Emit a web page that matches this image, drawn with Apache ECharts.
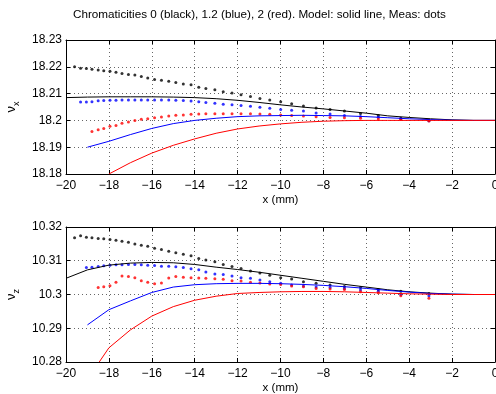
<!DOCTYPE html>
<html>
<head>
<meta charset="utf-8">
<script src="https://cdn.jsdelivr.net/npm/echarts@6/dist/echarts.min.js"></script>
<style>
  html, body { margin: 0; padding: 0; background: #fff; }
  #chart { width: 496px; height: 394px; }
</style>
</head>
<body>
<div id="chart"></div>
<script>
// measurement positions (mm), shared by all measured series
const X_MEAS = [-19.6, -19.32, -19.05, -18.79, -18.5, -18.24, -17.95, -17.67, -17.39, -17.09,
  -16.79, -16.49, -16.19, -15.87, -15.55, -15.21, -14.88, -14.53, -14.17, -13.81,
  -13.48, -13.06, -12.67, -12.26, -11.84, -11.4, -10.96, -10.5, -9.99, -9.48,
  -8.93, -8.34, -7.69, -7.02, -6.27, -5.44, -4.39, -3.08];

// nu_x measured (dots); *_START = first index into X_MEAS
const NUX_BLACK_MEAS = [18.2200, 18.2195, 18.2194, 18.2191, 18.2188, 18.2185, 18.2183, 18.2180, 18.2175, 18.2171,
  18.2169, 18.2164, 18.2158, 18.2153, 18.2150, 18.2146, 18.2141, 18.2136, 18.2133, 18.2124,
  18.2119, 18.2114, 18.2107, 18.2102, 18.2096, 18.2089, 18.2082, 18.2076, 18.2070, 18.2062,
  18.2054, 18.2046, 18.2041, 18.2035, 18.2026, 18.2018, 18.2008, 18.2000];
const NUX_BLACK_START = 0;
const NUX_BLUE_MEAS = [18.2069, 18.2069, 18.2070, 18.2073, 18.2074, 18.2075, 18.2075, 18.2076, 18.2076,
  18.2076, 18.2076, 18.2076, 18.2076, 18.2076, 18.2076, 18.2075, 18.2074, 18.2072, 18.2070,
  18.2067, 18.2064, 18.2060, 18.2058, 18.2056, 18.2053, 18.2049, 18.2045, 18.2041, 18.2038,
  18.2035, 18.2028, 18.2024, 18.2018, 18.2015, 18.2012, 18.2006, 18.1999];
const NUX_BLUE_START = 1;
const NUX_RED_MEAS = [18.1959, 18.1965, 18.1970, 18.1978, 18.1981, 18.1989, 18.1994,
  18.2000, 18.2004, 18.2006, 18.2010, 18.2013, 18.2016, 18.2019, 18.2020, 18.2023, 18.2024,
  18.2025, 18.2025, 18.2025, 18.2025, 18.2025, 18.2025, 18.2024, 18.2023, 18.2020, 18.2018,
  18.2016, 18.2014, 18.2011, 18.2010, 18.2008, 18.2005, 18.2003, 18.1998];
const NUX_RED_START = 3;

// nu_z measured (dots)
const NUZ_BLACK_MEAS = [10.3168, 10.3174, 10.3170, 10.3168, 10.3166, 10.3165, 10.3163, 10.3161, 10.3158, 10.3155,
  10.3150, 10.3146, 10.3143, 10.3137, 10.3133, 10.3128, 10.3124, 10.3119, 10.3115, 10.3107,
  10.3102, 10.3097, 10.3089, 10.3083, 10.3077, 10.3070, 10.3064, 10.3057, 10.3050, 10.3046,
  10.3038, 10.3033, 10.3028, 10.3024, 10.3021, 10.3015, 10.3010, 10.3003];
const NUZ_BLACK_START = 0;
const NUZ_BLUE_MEAS = [10.3080, 10.3081, 10.3083, 10.3085, 10.3087, 10.3088, 10.3088, 10.3089,
  10.3089, 10.3088, 10.3087, 10.3086, 10.3084, 10.3084, 10.3082, 10.3080, 10.3076, 10.3073,
  10.3067, 10.3061, 10.3059, 10.3055, 10.3050, 10.3048, 10.3043, 10.3038, 10.3033, 10.3028,
  10.3025, 10.3022, 10.3021, 10.3018, 10.3013, 10.3010, 10.3000, 10.2996];
const NUZ_BLUE_START = 2;
const NUZ_RED_MEAS = [10.3021, 10.3023, 10.3026, 10.3036, 10.3055, 10.3053, 10.3050, 10.3041,
  10.3036, 10.3032, 10.3034, 10.3049, 10.3053, 10.3051, 10.3050, 10.3049, 10.3048,
  10.3047, 10.3045, 10.3041, 10.3040, 10.3036, 10.3034, 10.3031, 10.3030, 10.3025, 10.3023,
  10.3018, 10.3016, 10.3015, 10.3008, 10.3005, 10.2996, 10.2989];
const NUZ_RED_START = 4;

// model curves (solid lines)
const X_MOD_BLACK = [-20, -19, -18, -17, -16, -15, -14, -13, -12, -11, -10, -9, -8, -7, -6, -5, -4, -3, -2, -1, 0];
const X_MOD_BLUE = [-19, -18, -17, -16, -15, -14, -13, -12, -11, -10, -9, -8, -7, -6, -5, -4, -3, -2, -1, 0];
const X_MOD_RED_X = [-18, -17, -16, -15, -14, -13, -12, -11, -10, -9, -8, -7, -6, -5, -4, -3, -2, -1, 0];
const X_MOD_RED_Z = [-18.45, -18, -17, -16, -15, -14, -13, -12, -11, -10, -9, -8, -7, -6, -5, -4, -3, -2, -1, 0];

const NUX_BLACK_MOD = [18.2085, 18.2087, 18.2088, 18.2088, 18.2088, 18.2087, 18.2085, 18.2081, 18.2075, 18.2067,
  18.2058, 18.2050, 18.2043, 18.2035, 18.2027, 18.2017, 18.2011, 18.2006, 18.2002, 18.2000, 18.2000];
const NUX_BLUE_MOD = [18.1900, 18.1922, 18.1947, 18.1970, 18.1988, 18.2000, 18.2008, 18.2014, 18.2017, 18.2018,
  18.2019, 18.2018, 18.2017, 18.2014, 18.2010, 18.2006, 18.2003, 18.2001, 18.2000, 18.2000];
const NUX_RED_MOD = [18.1800, 18.1842, 18.1878, 18.1907, 18.1931, 18.1952, 18.1968, 18.1979, 18.1987, 18.1993,
  18.1997, 18.1999, 18.2000, 18.2000, 18.2000, 18.2000, 18.2000, 18.2000, 18.2000];

const NUZ_BLACK_MOD = [10.3048, 10.3073, 10.3087, 10.3093, 10.3095, 10.3094, 10.3089, 10.3081, 10.3074, 10.3066,
  10.3057, 10.3048, 10.3039, 10.3030, 10.3022, 10.3014, 10.3008, 10.3004, 10.3001, 10.3000, 10.3000];
const NUZ_BLUE_MOD = [10.2910, 10.2955, 10.2981, 10.3006, 10.3022, 10.3029, 10.3032, 10.3033, 10.3033, 10.3032,
  10.3030, 10.3027, 10.3023, 10.3018, 10.3012, 10.3007, 10.3003, 10.3001, 10.3000, 10.3000];
const NUZ_RED_MOD = [10.2800, 10.2842, 10.2895, 10.2936, 10.2964, 10.2983, 10.2995, 10.3003, 10.3006, 10.3008,
  10.3009, 10.3009, 10.3008, 10.3006, 10.3004, 10.3002, 10.3001, 10.3000, 10.3000, 10.3000];

const TITLE = 'Chromaticities 0 (black), 1.2 (blue), 2 (red). Model: solid line, Meas: dots';
const X_LABEL = 'x (mm)';

const FONT = 'Liberation Sans, Arial, Helvetica, sans-serif';
const COL = { black: '#000000', blue: '#0000ff', red: '#ff0000' };

const meas = (start, ys) => ys.map((y, i) => [X_MEAS[start + i], y]);
const model = (xs, ys) => ys.map((y, i) => [xs[i], y]);

const fmtX = v => (v < 0 ? '\u2212' + Math.abs(v) : String(v));
const fmtY = v => String(parseFloat(v.toFixed(2)));

// v6 would shrink the grid to keep labels inside; turn that off
const grids = [
  { left: 66, top: 40, width: 429, height: 134, outerBoundsMode: 'none', containLabel: false },
  { left: 66, top: 227, width: 429, height: 135, outerBoundsMode: 'none', containLabel: false },
];

function xAxes(gi) {
  const base = {
    type: 'value', gridIndex: gi, min: -20, max: 0, interval: 2,
    axisLine: { show: true, onZero: false, lineStyle: { color: '#000', width: 1 } },
    axisTick: { show: true, inside: true, length: 4, lineStyle: { color: '#000' } },
  };
  return [
    Object.assign({}, base, {
      position: 'bottom',
      axisLabel: { color: '#000', fontFamily: FONT, fontSize: 12, margin: 6, formatter: fmtX },
      splitLine: { show: true, lineStyle: { color: '#666', type: [1, 3], width: 1 } },
      name: X_LABEL, nameLocation: 'middle', nameGap: 20,
      nameTextStyle: { color: '#000', fontFamily: FONT, fontSize: 11.5 },
    }),
    Object.assign({}, base, {
      position: 'top', axisLabel: { show: false }, splitLine: { show: false },
    }),
  ];
}

function yAxes(gi, min, max, sub) {
  const base = {
    type: 'value', gridIndex: gi, min: min, max: max, interval: 0.01,
    axisLine: { show: true, onZero: false, lineStyle: { color: '#000', width: 1 } },
    axisTick: { show: true, inside: true, length: 4, lineStyle: { color: '#000' } },
  };
  return [
    Object.assign({}, base, {
      position: 'left',
      axisLabel: { color: '#000', fontFamily: FONT, fontSize: 12, margin: 4, formatter: fmtY },
      splitLine: { show: true, lineStyle: { color: '#666', type: [1, 3], width: 1 } },
      name: '{nu|\u03bd}{sub|' + sub + '}', nameLocation: 'middle', nameGap: 42, nameRotate: 90,
      nameTextStyle: {
        color: '#000', fontFamily: FONT,
        rich: {
          nu: { fontSize: 13, fontFamily: FONT, color: '#000', lineHeight: 16, verticalAlign: 'top' },
          sub: { fontSize: 9, fontFamily: FONT, color: '#000', lineHeight: 16, verticalAlign: 'bottom', padding: [8, 0, 0, 0] },
        },
      },
    }),
    Object.assign({}, base, {
      position: 'right', axisLabel: { show: false }, splitLine: { show: false },
    }),
  ];
}

function lineSeries(gi, data, color) {
  return {
    type: 'line', xAxisIndex: gi * 2, yAxisIndex: gi * 2, data: data,
    showSymbol: false, symbol: 'none', clip: true,
    lineStyle: { color: color, width: 1 }, silent: true, animation: false,
  };
}

function dotSeries(gi, data, color) {
  return {
    type: 'scatter', xAxisIndex: gi * 2, yAxisIndex: gi * 2, data: data,
    symbol: 'circle', symbolSize: 3, itemStyle: { color: color },
    silent: true, animation: false,
  };
}

const chart = echarts.init(document.getElementById('chart'), null, { renderer: 'canvas' });
chart.setOption({
  backgroundColor: '#fff',
  animation: false,
  title: {
    text: TITLE, left: 68, top: 4,
    textStyle: { color: '#000', fontFamily: FONT, fontSize: 11.7, fontWeight: 'normal' },
  },
  grid: grids,
  xAxis: xAxes(0).concat(xAxes(1)),
  yAxis: yAxes(0, 18.18, 18.23, 'x').concat(yAxes(1, 10.28, 10.32, 'z')),
  series: [
    lineSeries(0, model(X_MOD_BLACK, NUX_BLACK_MOD), COL.black),
    lineSeries(0, model(X_MOD_BLUE, NUX_BLUE_MOD), COL.blue),
    lineSeries(0, model(X_MOD_RED_X, NUX_RED_MOD), COL.red),
    dotSeries(0, meas(NUX_BLACK_START, NUX_BLACK_MEAS), COL.black),
    dotSeries(0, meas(NUX_BLUE_START, NUX_BLUE_MEAS), COL.blue),
    dotSeries(0, meas(NUX_RED_START, NUX_RED_MEAS), COL.red),

    lineSeries(1, model(X_MOD_BLACK, NUZ_BLACK_MOD), COL.black),
    lineSeries(1, model(X_MOD_BLUE, NUZ_BLUE_MOD), COL.blue),
    lineSeries(1, model(X_MOD_RED_Z, NUZ_RED_MOD), COL.red),
    dotSeries(1, meas(NUZ_BLACK_START, NUZ_BLACK_MEAS), COL.black),
    dotSeries(1, meas(NUZ_BLUE_START, NUZ_BLUE_MEAS), COL.blue),
    dotSeries(1, meas(NUZ_RED_START, NUZ_RED_MEAS), COL.red),
  ],
});
</script>
</body>
</html>
